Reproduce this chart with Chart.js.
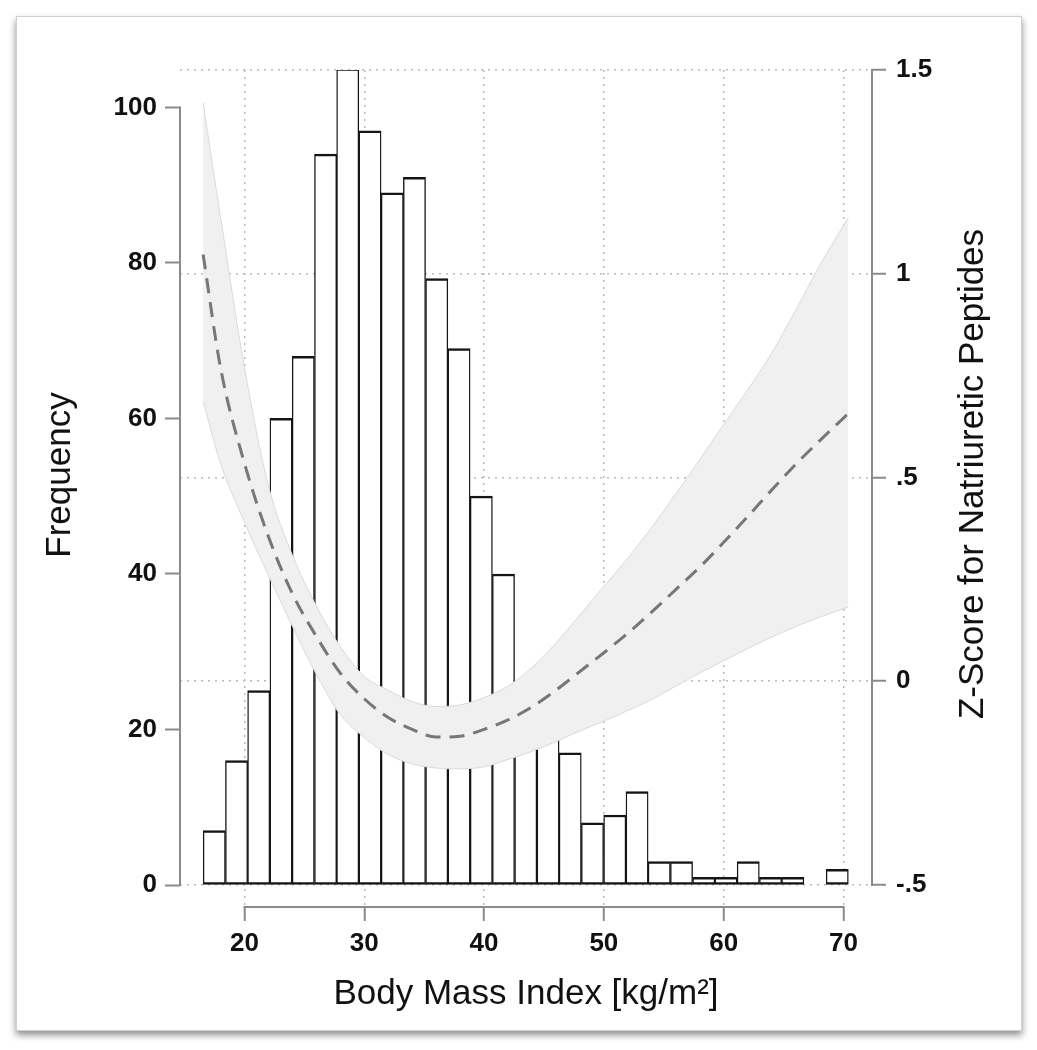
<!DOCTYPE html>
<html>
<head>
<meta charset="utf-8">
<script src="https://cdn.jsdelivr.net/npm/chart.js@4"></script>
<style>
  html, body { margin: 0; padding: 0; background: #fff; }
  #wrap { position: relative; width: 1037px; height: 1050px; }
  #frame {
    position: absolute; left: 16px; top: 16px; width: 1004px; height: 1013px;
    border: 1px solid #cfcfcf; background: #fff;
    box-shadow: 0 4px 7px rgba(0, 0, 0, 0.45);
  }
  #chart { position: absolute; left: 0; top: 0; }
</style>
</head>
<body>
<div id="wrap">
  <div id="frame"></div>
  <canvas id="chart" width="1037" height="1050"></canvas>
</div>
<script>
// --- data ---
// histogram bins (centres, BMI) and counts
const bmiBins = [17.48, 19.34, 21.19, 23.05, 24.91, 26.77, 28.62, 30.48, 32.34, 34.19,
                 36.05, 37.91, 39.77, 41.62, 43.48, 45.34, 47.19, 49.05, 50.91, 52.77,
                 54.62, 56.48, 58.34, 60.19, 62.05, 63.91, 65.77, 67.62, 69.48];
const frequency = [7, 16, 25, 60, 68, 94, 105, 97, 89, 91,
                   78, 69, 50, 40, 24, 20, 17, 8, 9, 12,
                   3, 3, 1, 1, 3, 1, 1, null, 2];

// fitted z-score with confidence band
const fitBmi = [16.55, 18, 20, 22, 24, 26, 28, 30, 32, 34, 36, 38, 40, 42,
                44, 46, 48, 50, 52, 54, 56, 58, 60, 62, 64, 66, 68, 70.4];
const fitZ = [1.047, 0.77, 0.535, 0.355, 0.215, 0.11, 0.02, -0.043, -0.089, -0.118, -0.137, -0.135, -0.118, -0.095,
              -0.063, -0.022, 0.024, 0.07, 0.118, 0.17, 0.225, 0.28, 0.341, 0.404, 0.469, 0.532, 0.59, 0.657];
const ciUpper = [1.419, 1.14, 0.77, 0.48, 0.31, 0.185, 0.085, 0.012, -0.022, -0.05, -0.062, -0.058, -0.04, -0.012,
                 0.034, 0.094, 0.163, 0.233, 0.302, 0.378, 0.46, 0.544, 0.63, 0.715, 0.805, 0.91, 1.02, 1.138];
const ciLower = [0.687, 0.535, 0.39, 0.26, 0.135, 0.017, -0.082, -0.138, -0.18, -0.203, -0.213, -0.215, -0.21, -0.192,
                 -0.172, -0.148, -0.122, -0.098, -0.072, -0.045, -0.012, 0.02, 0.05, 0.08, 0.108, 0.134, 0.157, 0.182];

// axis ticks
const bmiTicks = [20, 30, 40, 50, 60, 70];
const freqTicks = [0, 20, 40, 60, 80, 100];
const zTicks = [-0.5, 0, 0.5, 1, 1.5];
const zTickLabels = ['-.5', '0', '.5', '1', '1.5'];

const FONT = '"Liberation Sans", Arial, Helvetica, sans-serif';
const AXIS_GREY = '#8a8a8a';

// Stata-style axis lines (only across the labelled range) and the two vertical titles
const stataAxes = {
    id: 'stataAxes',
    afterDraw(chart) {
        const { ctx, chartArea, scales } = chart;
        const x = scales.x, f = scales.freq, z = scales.z;
        ctx.save();
        ctx.strokeStyle = AXIS_GREY;
        ctx.lineWidth = 2;
        ctx.beginPath();
        ctx.moveTo(chartArea.left, f.getPixelForValue(freqTicks[0]) + 1);
        ctx.lineTo(chartArea.left, f.getPixelForValue(freqTicks[freqTicks.length - 1]) - 1);
        ctx.moveTo(chartArea.right, z.getPixelForValue(zTicks[0]) + 1);
        ctx.lineTo(chartArea.right, z.getPixelForValue(zTicks[zTicks.length - 1]) - 1);
        ctx.moveTo(x.getPixelForValue(bmiTicks[0]) - 1, chartArea.bottom);
        ctx.lineTo(x.getPixelForValue(bmiTicks[bmiTicks.length - 1]) + 1, chartArea.bottom);
        ctx.stroke();

        ctx.fillStyle = '#111';
        ctx.font = '35px ' + FONT;
        ctx.textAlign = 'center';
        ctx.textBaseline = 'middle';
        [['Frequency', 60, 475], ['Z-Score for Natriuretic Peptides', 973, 474]].forEach(t => {
            ctx.save();
            ctx.translate(t[1], t[2]);
            ctx.rotate(-Math.PI / 2);
            ctx.fillText(t[0], 0, 0);
            ctx.restore();
        });
        ctx.restore();
    }
};

const tickFont = { family: FONT, size: 26, weight: 'bold' };

new Chart(document.getElementById('chart'), {
    type: 'bar',
    data: {
        datasets: [
            {
                type: 'line',
                label: 'Fit',
                data: fitBmi.map((b, i) => ({ x: b, y: fitZ[i] })),
                xAxisID: 'x', yAxisID: 'z',
                borderColor: '#777',
                borderWidth: 3,
                borderDash: [15, 9],
                pointRadius: 0,
                fill: false,
                cubicInterpolationMode: 'monotone',
                order: 1
            },
            {
                type: 'line',
                label: 'CI upper',
                data: fitBmi.map((b, i) => ({ x: b, y: ciUpper[i] })),
                xAxisID: 'x', yAxisID: 'z',
                borderColor: '#dadada',
                borderWidth: 1,
                backgroundColor: '#f0f0f0',
                pointRadius: 0,
                fill: '+1',
                cubicInterpolationMode: 'monotone',
                order: 3
            },
            {
                type: 'line',
                label: 'CI lower',
                data: fitBmi.map((b, i) => ({ x: b, y: ciLower[i] })),
                xAxisID: 'x', yAxisID: 'z',
                borderColor: '#dadada',
                borderWidth: 1,
                pointRadius: 0,
                fill: false,
                cubicInterpolationMode: 'monotone',
                order: 2
            },
            {
                type: 'bar',
                label: 'Frequency',
                data: bmiBins.map((b, i) => ({ x: b, y: frequency[i] })),
                xAxisID: 'x', yAxisID: 'freq',
                backgroundColor: '#ffffff',
                borderColor: '#151515',
                borderWidth: { top: 2.5, bottom: 2.5, left: 1.4, right: 1.4 },
                borderSkipped: false,
                barPercentage: 1,
                categoryPercentage: 1,
                order: 4
            }
        ]
    },
    options: {
        responsive: false,
        devicePixelRatio: 1,
        animation: false,
        layout: { padding: { top: 70, left: 0, right: 0, bottom: 0 } },
        plugins: {
            legend: { display: false },
            tooltip: { enabled: false }
        },
        scales: {
            x: {
                type: 'linear',
                position: 'bottom',
                min: 14.62,
                max: 72.38,
                offset: false,
                afterBuildTicks: s => { s.ticks = bmiTicks.map(v => ({ value: v })); },
                afterFit: s => { s.height = 143; },
                ticks: { autoSkip: false, maxRotation: 0, padding: 7, color: '#111', font: tickFont },
                grid: {
                    offset: false, color: '#b9b9b9', lineWidth: 1.5,
                    tickColor: AXIS_GREY, tickWidth: 2, tickLength: 14, tickBorderDash: []
                },
                border: { display: false, dash: [2, 5] },
                title: {
                    display: true,
                    text: 'Body Mass Index [kg/m²]',
                    color: '#111',
                    font: { family: FONT, size: 35 },
                    padding: { top: 0, bottom: 35 }
                }
            },
            freq: {
                type: 'linear',
                position: 'left',
                min: -2.829,
                max: 104.81,
                afterBuildTicks: s => { s.ticks = freqTicks.map(v => ({ value: v })); },
                afterFit: s => { s.width = 180; },
                ticks: { autoSkip: false, padding: 8, color: '#111', font: tickFont },
                grid: {
                    drawOnChartArea: false,
                    tickColor: AXIS_GREY, tickWidth: 2, tickLength: 15
                },
                border: { display: false }
            },
            z: {
                type: 'linear',
                position: 'right',
                min: -0.554,
                max: 1.5,
                afterBuildTicks: s => { s.ticks = zTicks.map(v => ({ value: v })); },
                afterFit: s => { s.width = 165; },
                ticks: {
                    autoSkip: false, padding: 10, color: '#111', font: tickFont,
                    callback: v => zTickLabels[zTicks.indexOf(v)]
                },
                grid: {
                    color: '#b9b9b9', lineWidth: 1.5,
                    tickColor: AXIS_GREY, tickWidth: 2, tickLength: 14, tickBorderDash: []
                },
                border: { display: false, dash: [2, 5] }
            }
        }
    },
    plugins: [stataAxes]
});
</script>
</body>
</html>
